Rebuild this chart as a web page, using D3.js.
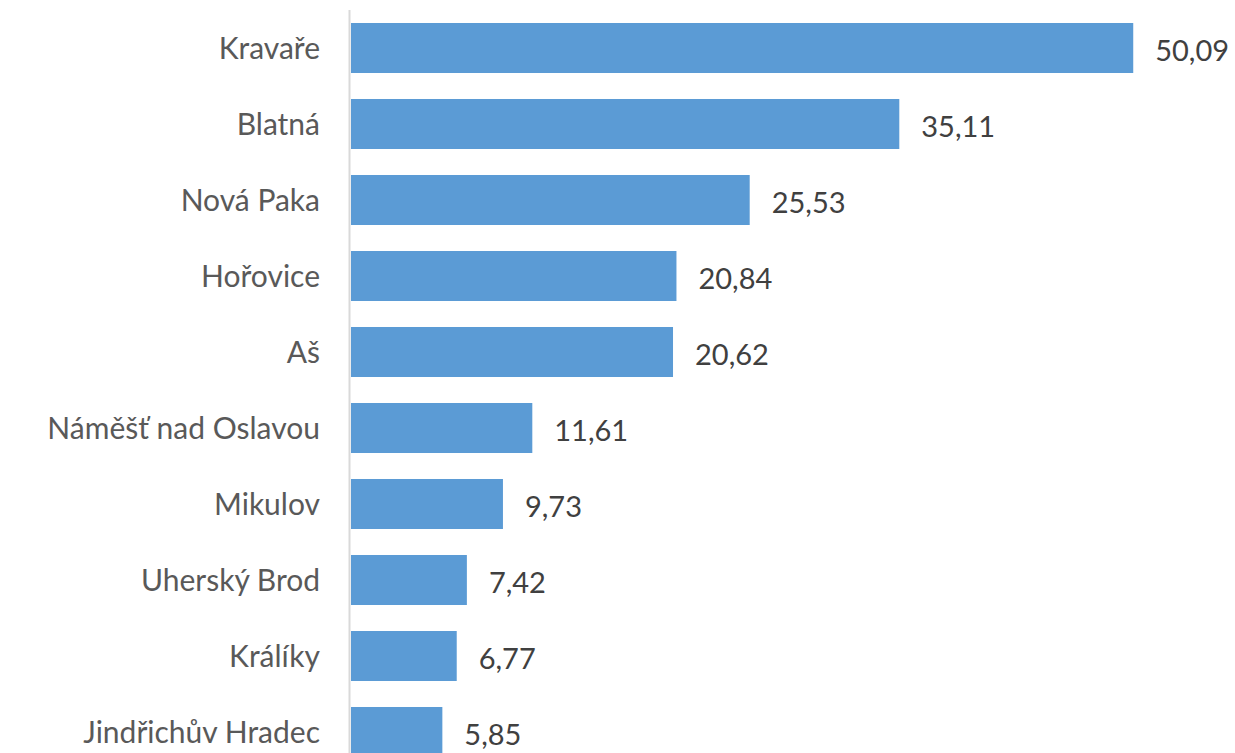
<!DOCTYPE html>
<html>
<head>
<meta charset="utf-8">
<script src="https://cdn.jsdelivr.net/npm/d3@7"></script>
<style>
  body { margin: 0; background: #fff; }
  svg { display: block; }
</style>
</head>
<body>
<svg class="chart"></svg>
<script>
const cities = ["Kravaře", "Blatná", "Nová Paka", "Hořovice", "Aš",
    "Náměšť nad Oslavou", "Mikulov", "Uherský Brod", "Králíky", "Jindřichův Hradec"]
const values = [50.09, 35.11, 25.53, 20.84, 20.62, 11.61, 9.73, 7.42, 6.77, 5.85]

const width = 1235, height = 753

const svg = d3.select("svg.chart")
    .attr("width", width)
    .attr("height", height)

// czech number format, decimal comma
const czLocale = d3.formatLocale({ decimal: ",", thousands: " ", grouping: [3], currency: ["", " Kč"] })
const fmt = czLocale.format(".2f")

const x = d3.scaleLinear()
    .domain([0, 60])
    .range([351, 1288])

const y = d3.scaleBand()
    .domain(cities)
    .range([10, 770])
    .paddingInner(0.342)
    .paddingOuter(0.171)

const data = cities.map((c, i) => ({ city: c, value: values[i] }))

// bars
svg.append("g")
    .selectAll("rect")
    .data(data)
    .enter()
    .append("rect")
    .attr("x", x(0))
    .attr("y", d => y(d.city))
    .attr("width", d => x(d.value) - x(0))
    .attr("height", y.bandwidth())
    .attr("fill", "#5b9bd5")

// vertical axis line
svg.append("line")
    .attr("x1", 349.5).attr("x2", 349.5)
    .attr("y1", 10).attr("y2", height)
    .attr("stroke", "#d9d9d9")
    .attr("stroke-width", 2)

// category labels
svg.append("g")
    .selectAll("text")
    .data(data)
    .enter()
    .append("text")
    .attr("x", 320)
    .attr("y", d => y(d.city) + y.bandwidth() / 2)
    .attr("dy", "0.36em")
    .attr("text-anchor", "end")
    .style("font-family", "Lato, 'Open Sans', sans-serif")
    .style("font-size", "30px")
    .style("fill", "#595959")
    .text(d => d.city)

// value labels
svg.append("g")
    .selectAll("text")
    .data(data)
    .enter()
    .append("text")
    .attr("x", d => x(d.value) + 22)
    .attr("y", d => y(d.city) + y.bandwidth() / 2 + 3)
    .attr("dy", "0.36em")
    .style("font-family", "Lato, 'Open Sans', sans-serif")
    .style("font-size", "29px")
    .style("fill", "#404040")
    .text(d => fmt(d.value))
</script>
</body>
</html>
